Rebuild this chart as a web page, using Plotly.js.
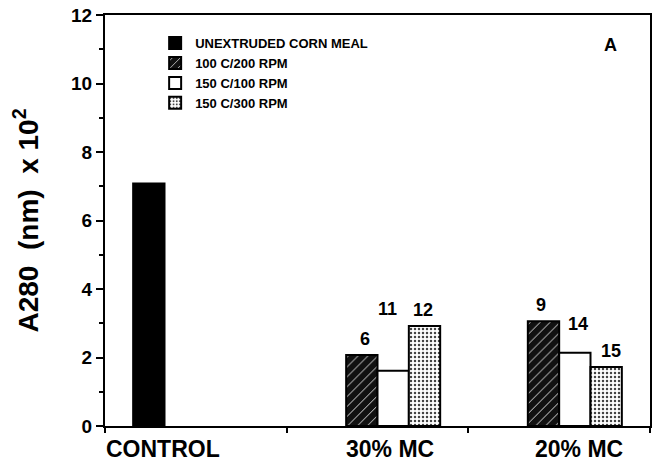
<!DOCTYPE html>
<html>
<head>
<meta charset="utf-8">
<script src="https://cdn.plot.ly/plotly-3.0.1.min.js"></script>
<style>html,body{margin:0;padding:0;background:#fff;}#chart{width:660px;height:468px;}</style>
</head>
<body>
<div id="chart"></div>
<script>
// ---- data ----
var categories = ["CONTROL", "30% MC", "20% MC"];
var seriesNames = ["UNEXTRUDED CORN MEAL", "100 C/200 RPM", "150 C/100 RPM", "150 C/300 RPM"];
var unextruded = [7.08, null, null];
var c100_200 = [null, 2.07, 3.06];
var c150_100 = [null, 1.61, 2.14];
var c150_300 = [null, 2.92, 1.72];
var labels100_200 = ["", "6", "9"];
var labels150_100 = ["", "11", "14"];
var labels150_300 = ["", "12", "15"];
var yTickVals = [0, 2, 4, 6, 8, 10, 12];

// ---- styling ----
var FONT = "Liberation Sans, Arial, Helvetica, sans-serif";
var seriesValues = [unextruded, c100_200, c150_100, c150_300];
var seriesLabels = [null, labels100_200, labels150_100, labels150_300];
var markers = [
  {color: "#000", line: {color: "#000", width: 2}},
  {color: "#111", line: {color: "#000", width: 2},
   pattern: {shape: "/", fgcolor: "#ffffff", bgcolor: "#111", size: 7, solidity: 0.12}},
  {color: "#fff", line: {color: "#000", width: 2}},
  {color: "#fff", line: {color: "#000", width: 2},
   pattern: {shape: ".", fgcolor: "#444", bgcolor: "#fff", size: 4, solidity: 0.3}}
];
var bargap = 0.31;
var w = (1 - bargap) / 4;

var traces = seriesValues.map(function (vals, i) {
  return {
    type: "bar",
    name: seriesNames[i],
    x: categories,
    y: vals,
    marker: markers[i],
    hoverinfo: "none"
  };
});

var annotations = [];
// sample-number labels above bars
var yshifts = {"11": 46, "14": 13};
var xshifts = {"11": -6, "14": 3, "15": 5, "12": -2, "9": -3, "6": 3};
for (var s = 1; s < 4; s++) {
  var labs = seriesLabels[s];
  for (var c = 0; c < categories.length; c++) {
    if (!labs[c]) continue;
    annotations.push({
      x: c + (s - 1.5) * w, y: seriesValues[s][c], xref: "x", yref: "y",
      text: labs[c], showarrow: false, yanchor: "bottom",
      yshift: 4 + (yshifts[labs[c]] || 0), xshift: (xshifts[labs[c]] || 0),
      font: {family: FONT, size: 18, color: "#000", weight: "bold"}
    });
  }
}
// category labels below axis
var labelX = [-0.18, 0.07, 0.11];
categories.forEach(function (cat, i) {
  annotations.push({
    x: i + labelX[i], y: 0, xref: "x", yref: "y", text: cat, showarrow: false,
    yanchor: "top", yshift: -8,
    font: {family: FONT, size: 23, color: "#000", weight: "bold"}
  });
});
// panel letter
annotations.push({
  x: 0.927, y: 0.927, xref: "paper", yref: "paper", text: "A", showarrow: false,
  xanchor: "center", yanchor: "middle",
  font: {family: FONT, size: 18, color: "#000", weight: "bold"}
});

var layout = {
  width: 660, height: 468,
  margin: {l: 105, r: 10, t: 15, b: 42},
  paper_bgcolor: "#fff", plot_bgcolor: "#fff",
  barmode: "group", bargap: bargap, bargroupgap: 0,
  showlegend: true,
  legend: {
    x: 0.092, y: 0.968, xanchor: "left", yanchor: "top",
    bgcolor: "rgba(0,0,0,0)", borderwidth: 0,
    font: {family: FONT, size: 13, color: "#000", weight: "bold"},
    tracegroupgap: 0, itemclick: false, itemdoubleclick: false
  },
  xaxis: {
    type: "category", range: [-0.5, 2.5],
    showline: true, linecolor: "#000", linewidth: 2, mirror: true,
    ticks: "outside", tickson: "boundaries", ticklen: 5, tickwidth: 2, tickcolor: "#000",
    showticklabels: false, showgrid: false, zeroline: false, fixedrange: true
  },
  yaxis: {
    range: [0, 12], tickvals: yTickVals,
    showline: true, linecolor: "#000", linewidth: 2, mirror: true,
    ticks: "outside", ticklen: 7, tickwidth: 2, tickcolor: "#000",
    minor: {dtick: 1, ticks: "outside", ticklen: 4, tickwidth: 2, tickcolor: "#000"},
    showgrid: false, zeroline: false,
    tickfont: {family: FONT, size: 19, color: "#000", weight: "bold"},
    title: {text: "A280  (nm)  x 10<sup>2</sup>", standoff: 24,
            font: {family: FONT, size: 28, color: "#000", weight: "bold"}},
    fixedrange: true
  },
  annotations: annotations
};

Plotly.newPlot("chart", traces, layout, {staticPlot: true, displayModeBar: false});
</script>
</body>
</html>
